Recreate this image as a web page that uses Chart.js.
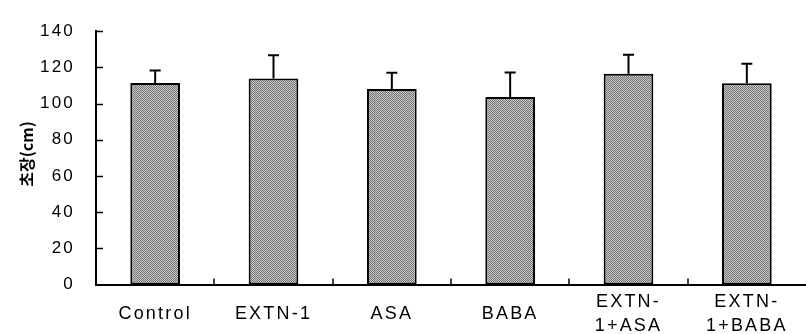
<!DOCTYPE html>
<html>
<head>
<meta charset="utf-8">
<script src="https://cdn.jsdelivr.net/npm/chart.js@4/dist/chart.umd.min.js"></script>
<style>
  html, body { margin: 0; padding: 0; background: #fff; }
  #wrap { width: 806px; height: 334px; position: relative; }
</style>
</head>
<body>
<div id="wrap"><canvas id="plantChart"></canvas></div>
<script>
/* 초장 (plant height) by treatment */
const categories = ['Control', 'EXTN-1', 'ASA', 'BABA', ['EXTN-', '1+ASA'], ['EXTN-', '1+BABA']];
const heights = [111.4, 113.9, 108.1, 103.7, 116.5, 111.2];
const errors = [6.9, 12.8, 8.9, 13.5, 10.5, 10.8];
const yTickValues = [0, 20, 40, 60, 80, 100, 120, 140];
const yTitle = '초장(cm)';

const FONT = "'Liberation Sans', Arial, sans-serif";

// dithered gray fill like the scanned bars
function makeHalftone() {
    const pc = document.createElement('canvas');
    pc.width = 2; pc.height = 2;
    const p = pc.getContext('2d');
    p.fillStyle = '#c6c6c6';
    p.fillRect(0, 0, 2, 2);
    p.fillStyle = '#767676';
    p.fillRect(0, 0, 1, 1);
    p.fillRect(1, 1, 1, 1);
    return document.getElementById('plantChart').getContext('2d').createPattern(pc, 'repeat');
}

// letter spacing for the tick labels
const spacingPlugin = {
    id: 'spacing',
    beforeDraw(chart) { chart.ctx.letterSpacing = '2.2px'; }
};

// inward tick marks on both axes + y title
const tickPlugin = {
    id: 'inTicks',
    afterDraw(chart) {
        const { ctx, chartArea, scales: { x, y } } = chart;
        ctx.save();
        ctx.strokeStyle = '#000';
        ctx.lineWidth = 1.5;
        ctx.beginPath();
        yTickValues.forEach(v => {
            if (v === 0) return;
            const py = Math.round(y.getPixelForValue(v)) + 0.5;
            ctx.moveTo(chartArea.left, py);
            ctx.lineTo(chartArea.left + 7, py);
        });
        for (let i = 1; i < categories.length; i++) {
            const px = Math.round((x.getPixelForValue(i - 1) + x.getPixelForValue(i)) / 2);
            ctx.moveTo(px, chartArea.bottom);
            ctx.lineTo(px, chartArea.bottom - 6);
        }
        ctx.stroke();

        ctx.letterSpacing = '0px';
        ctx.fillStyle = '#000';
        ctx.font = "bold 16px 'Noto Sans CJK KR', sans-serif";
        ctx.textAlign = 'center';
        ctx.textBaseline = 'middle';
        ctx.translate(27, 154);
        ctx.rotate(-Math.PI / 2);
        ctx.fillText(yTitle, 0, 0);
        ctx.restore();
    }
};

// upper error bars
const errorPlugin = {
    id: 'errorBars',
    afterDatasetsDraw(chart) {
        const { ctx, scales: { y } } = chart;
        const meta = chart.getDatasetMeta(0);
        ctx.save();
        ctx.strokeStyle = '#000';
        ctx.lineWidth = 2;
        ctx.beginPath();
        meta.data.forEach((bar, i) => {
            const top = y.getPixelForValue(heights[i] + errors[i]);
            ctx.moveTo(bar.x, bar.y);
            ctx.lineTo(bar.x, top);
            ctx.moveTo(bar.x - 5.5, top);
            ctx.lineTo(bar.x + 5.5, top);
        });
        ctx.stroke();
        ctx.restore();
    }
};

new Chart(document.getElementById('plantChart'), {
    type: 'bar',
    data: {
        labels: categories,
        datasets: [{
            data: heights,
            backgroundColor: makeHalftone(),
            borderColor: '#000',
            borderWidth: 2,
            borderSkipped: false,
            categoryPercentage: 1,
            barPercentage: 0.42
        }]
    },
    options: {
        responsive: true,
        maintainAspectRatio: false,
        animation: false,
        layout: { padding: { top: 18, right: -3, left: 0, bottom: 0 } },
        plugins: { legend: { display: false }, tooltip: { enabled: false } },
        scales: {
            x: {
                grid: { display: false, drawTicks: false },
                border: { display: true, color: '#000', width: 2 },
                ticks: {
                    color: '#000',
                    font: { family: FONT, size: 18, lineHeight: 1.28 },
                    padding: 18,
                    crossAlign: 'center',
                    maxRotation: 0,
                    autoSkip: false
                },
                afterFit(scale) { scale.height = 49.5; }
            },
            y: {
                min: 0,
                max: 140,
                grid: { display: false, drawTicks: false },
                border: { display: true, color: '#000', width: 2 },
                ticks: {
                    stepSize: 20,
                    color: '#000',
                    font: { family: FONT, size: 17 },
                    padding: 21
                },
                afterFit(scale) { scale.width = 96; }
            }
        }
    },
    plugins: [spacingPlugin, errorPlugin, tickPlugin]
});
</script>
</body>
</html>
